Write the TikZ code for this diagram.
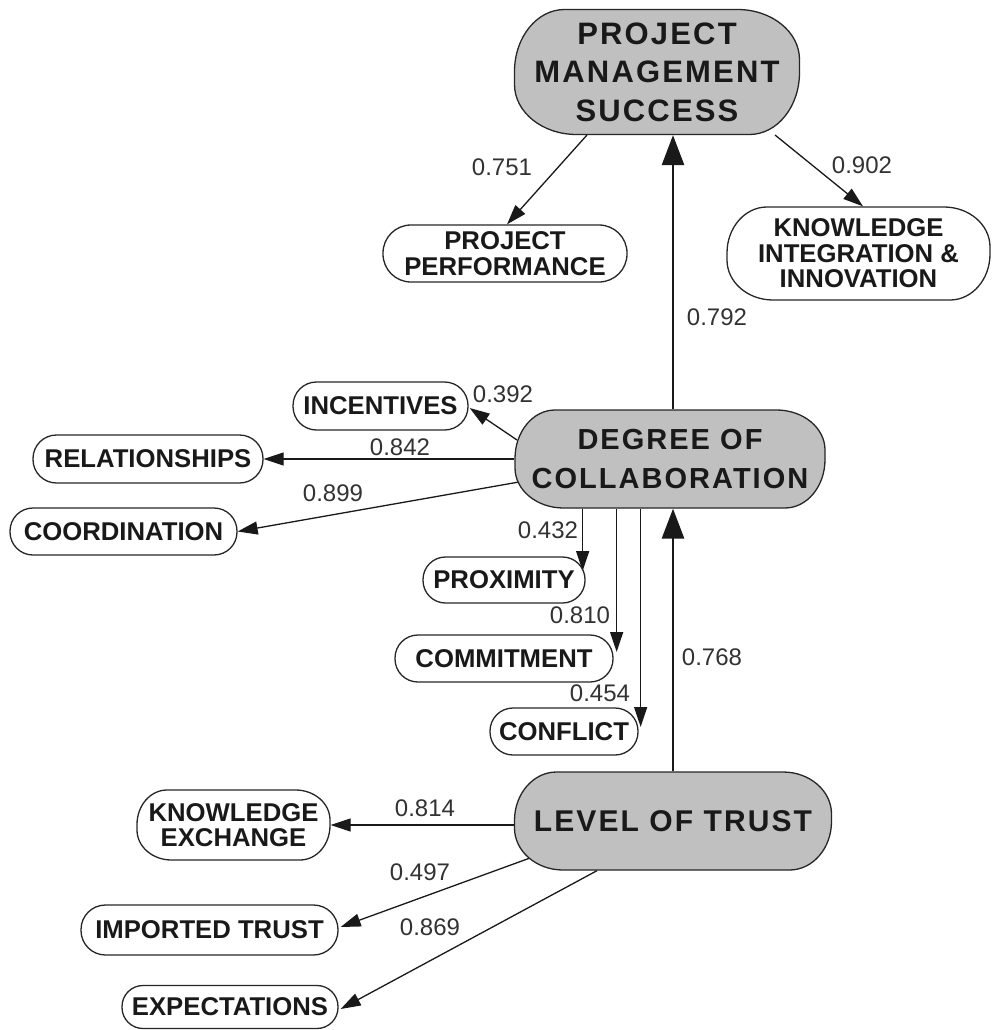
\documentclass[tikz,border=0pt]{standalone}
\usepackage{fontspec}
\setmainfont{Liberation Sans}
\usetikzlibrary{arrows.meta,calc,backgrounds}
% elliptical rounded corners: x radius, y radius
\makeatletter
\tikzset{ecorners/.code 2 args={\tikz@addoption{\pgfsetcornersarced{\pgfpoint{#1}{#2}}}}}
\makeatother
\definecolor{boxgray}{RGB}{192,192,192}
\definecolor{labelgray}{RGB}{50,50,50}
\tikzset{
  core/.style={draw=black!85, line width=1.3pt, fill=boxgray, align=center, inner sep=0pt,
    font=\fontsize{29}{38.5}\selectfont\bfseries\addfontfeatures{LetterSpace=7}, text=black!90},
  item/.style={draw=black!85, line width=1.3pt, align=center, inner sep=0pt,
    font=\fontsize{25.7}{25.5}\selectfont\bfseries, text=black!90},
  weight/.style={font=\fontsize{24}{24}\selectfont, text=labelgray, inner sep=0pt},
  link/.style={draw=black!90, line width=1.3pt, -{Triangle[length=20pt,width=13pt]}},
  mainlink/.style={draw=black!90, line width=2.8pt, -{Triangle[length=30pt,width=22pt]}},
}
\begin{document}
\begin{tikzpicture}[x=1pt,y=-1pt]
\useasboundingbox (0,0) rectangle (992,1030);

% latent constructs
\node[core, font=\fontsize{31}{38.5}\selectfont\bfseries\addfontfeatures{LetterSpace=7},
  minimum width=285pt, minimum height=125pt, ecorners={50pt}{62pt}] (pms) at (657,72) {PROJECT\\MANAGEMENT\\SUCCESS};
\node[core, minimum width=310pt, minimum height=98pt, ecorners={40pt}{48.5pt}] (doc) at (670,459) {DEGREE OF\\COLLABORATION};
\node[core, font=\fontsize{30}{38.5}\selectfont\bfseries\addfontfeatures{LetterSpace=7},
  minimum width=317pt, minimum height=98pt, ecorners={42pt}{48.5pt}] (lot) at (673,821) {LEVEL OF TRUST};

% indicators
\node[item, minimum width=244pt, minimum height=57pt, ecorners={28pt}{28pt}] (pp) at (505,253.5) {PROJECT\\PERFORMANCE};
\node[item, minimum width=263pt, minimum height=93pt, ecorners={40pt}{46pt}] (kii) at (858.5,253.5) {KNOWLEDGE\\INTEGRATION \&\\INNOVATION};
\node[item, minimum width=175pt, minimum height=48pt, ecorners={23.5pt}{23.5pt}] (inc) at (380.5,406) {INCENTIVES};
\node[item, minimum width=230pt, minimum height=48pt, ecorners={23.5pt}{23.5pt}] (rel) at (148,459) {RELATIONSHIPS};
\node[item, minimum width=227pt, minimum height=47pt, ecorners={23pt}{23pt}] (coo) at (123.5,531.5) {COORDINATION};
\node[item, minimum width=162pt, minimum height=46pt, ecorners={22.5pt}{22.5pt}] (prox) at (504,580) {PROXIMITY};
\node[item, minimum width=218pt, minimum height=47pt, ecorners={23pt}{23pt}] (com) at (504,658.5) {COMMITMENT};
\node[item, minimum width=148pt, minimum height=47pt, ecorners={23pt}{23pt}] (con) at (564,731.5) {CONFLICT};
\node[item, minimum width=193pt, minimum height=70pt, ecorners={30pt}{34.5pt}] (ke) at (233.5,825) {KNOWLEDGE\\EXCHANGE};
\node[item, minimum width=257pt, minimum height=50pt, ecorners={24.5pt}{24.5pt}] (imp) at (209.5,930) {IMPORTED TRUST};
\node[item, minimum width=216pt, minimum height=43pt, ecorners={21pt}{21pt}] (exp) at (230,1007) {EXPECTATIONS};

% arrow tip points on the indicator borders
\coordinate (proxtip) at ($(prox.east)+(-3,-9)$);
\coordinate (comtip) at ($(com.east)+(3,-6.5)$);
\coordinate (contip) at ($(con.east)+(2,-4.5)$);

\begin{scope}[on background layer]
  % structural paths
  \draw[mainlink] (lot.north) -- (lot.north |- doc.south);
  \draw[mainlink] (lot.north |- doc.north) -- (lot.north |- pms.south);
  % loadings
  \draw[link] ($(pms)+(-70,63)$) -- ($(pp.north)+(2,0)$);
  \draw[link] ($(pms)+(118,63)$) -- ($(kii.north)+(4.5,0)$);
  \draw[link] ($(doc)+(-153,-19)$) -- ($(inc.east)+(1,2)$);
  \draw[link] (doc.west) -- (rel.east);
  \draw[link] ($(doc)+(-151,23)$) -- (coo.east);
  \draw[link] (doc.south -| proxtip) -- (proxtip);
  \draw[link] (doc.south -| comtip) -- (comtip);
  \draw[link] (doc.south -| contip) -- (contip);
  \draw[link] (lot.west |- ke.east) -- (ke.east);
  \draw[link] ($(lot)+(-143,37)$) -- ($(imp.east)+(2,-3)$);
  \draw[link] ($(lot.south)+(-76,0)$) -- ($(exp.east)+(2,2)$);
\end{scope}

% path coefficients
\node[weight] (w751) at (502,167) {0.751};
\node[weight] (w902) at (862,165) {0.902};
\node[weight] (w792) at (717,317) {0.792};
\node[weight] (w392) at (503,394) {0.392};
\node[weight] (w842) at (400,447) {0.842};
\node[weight] (w899) at (333,493) {0.899};
\node[weight] (w432) at (548,530) {0.432};
\node[weight] (w810) at (580,615) {0.810};
\node[weight] (w454) at (600,693) {0.454};
\node[weight] (w768) at (712,657) {0.768};
\node[weight] (w814) at (425,808) {0.814};
\node[weight] (w497) at (420,872) {0.497};
\node[weight] (w869) at (430,927) {0.869};
\end{tikzpicture}
\end{document}
